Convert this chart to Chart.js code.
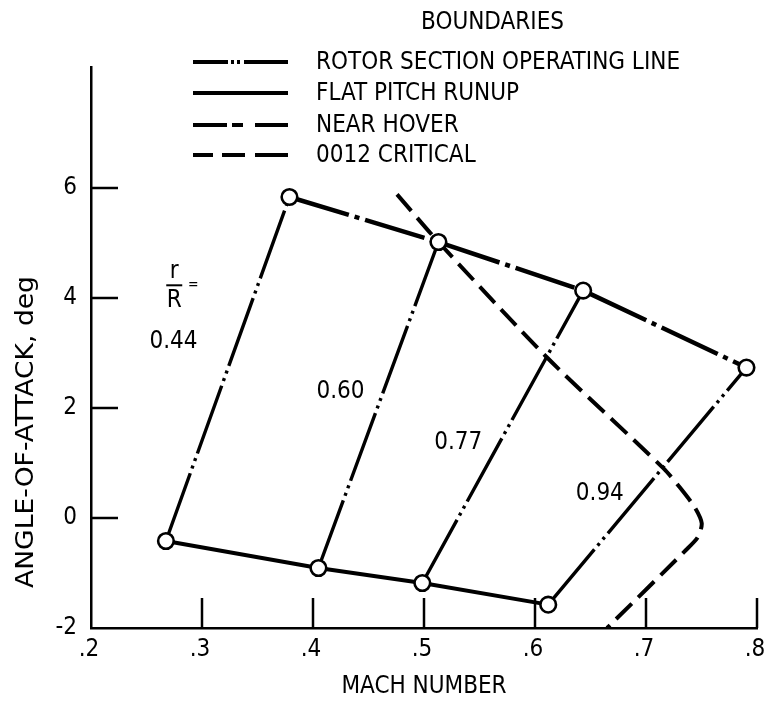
<!DOCTYPE html>
<html><head><meta charset="utf-8">
<script src="https://cdn.jsdelivr.net/npm/chart.js@4.4.1/dist/chart.umd.min.js"></script>
<style>html,body{margin:0;padding:0;background:#fff;}#wrap{width:768px;height:703px;position:relative;}</style>
</head><body><div id="wrap"><canvas id="c"></canvas></div>
<script>
const FONT = '"DejaVu Sans Condensed","Liberation Sans Narrow","Open Sans",sans-serif';

// ---- data ----
const machTicks = [0.2, 0.3, 0.4, 0.5, 0.6, 0.7, 0.8];
const alphaTicks = [-2, 0, 2, 4, 6];
const radiusLabels = ['0.44', '0.60', '0.77', '0.94'];
const seriesNames = ['ROTOR SECTION OPERATING LINE', 'FLAT PITCH RUNUP', 'NEAR HOVER', '0012 CRITICAL'];
// flat pitch runup boundary (bottom circles)
const runupMach  = [0.2675, 0.4049, 0.4985, 0.6119];
const runupAlpha = [-0.418, -0.909, -1.182, -1.575];
// near hover boundary (top circles)
const hoverMach  = [0.3788, 0.5130, 0.6434, 0.7905];
const hoverAlpha = [5.836, 5.018, 4.135, 2.735];
// 0012 critical boundary
const criticalMach  = [0.4757, 0.5130, 0.6104, 0.7160, 0.7304, 0.7439, 0.7502, 0.7466, 0.7358, 0.6689, 0.6649];
const criticalAlpha = [5.885, 5.018, 2.927, 0.898, 0.558, 0.195, -0.096, -0.351, -0.587, -1.92, -2.0];
// label anchor values (Mach, alpha) for r/R labels
const labelMach  = [0.2743, 0.4248, 0.5309, 0.6584];
const labelAlpha = [3.213, 2.287, 1.369, 0.449];

const pts = (xs, ys) => xs.map((x, i) => ({x, y: ys[i]}));

const datasets = [];
datasets.push({
  label: 'points', data: pts(runupMach.concat(hoverMach), runupAlpha.concat(hoverAlpha)),
  showLine: false, pointRadius: 7.8, pointBorderWidth: 2.6,
  pointBackgroundColor: '#fff', pointBorderColor: '#000', order: 0
});
for (let i = 0; i < radiusLabels.length; i++) {
  datasets.push({
    label: seriesNames[0] + ' ' + radiusLabels[i],
    data: pts([runupMach[i], hoverMach[i]], [runupAlpha[i], hoverAlpha[i]]),
    showLine: true, borderColor: '#000', borderWidth: 3.4, borderDash: [72, 5, 3, 5, 3, 5],
    pointRadius: 0, order: 1
  });
}
datasets.push({
  label: seriesNames[1], data: pts(runupMach, runupAlpha),
  showLine: true, borderColor: '#000', borderWidth: 4, pointRadius: 0, order: 1
});
datasets.push({
  label: seriesNames[2], data: pts(hoverMach, hoverAlpha),
  showLine: true, borderColor: '#000', borderWidth: 4.5, borderDash: [62, 6, 5, 6], pointRadius: 0, order: 1
});
datasets.push({
  label: seriesNames[3], data: pts(criticalMach, criticalAlpha),
  showLine: true, borderColor: '#000', borderWidth: 4, borderDash: [22, 9], tension: 0.25,
  pointRadius: 0, order: 1
});

const legendDash = [[35, 3, 3, 3, 3, 4, 50], [], [34, 5, 11, 12, 40], [20, 9, 23, 10, 40]];

function fitText(ctx, text, x, y, width) {
  const w = ctx.measureText(text).width;
  ctx.save(); ctx.translate(x, y); ctx.scale(width / w, 1);
  ctx.fillText(text, 0, 0); ctx.restore();
}

const decor = {
  id: 'decor',
  afterDraw(chart) {
    const ctx = chart.ctx, xs = chart.scales.x, ys = chart.scales.y, a = chart.chartArea;
    ctx.save();
    ctx.strokeStyle = '#000'; ctx.fillStyle = '#000'; ctx.lineWidth = 2.5; ctx.setLineDash([]);
    alphaTicks.forEach(v => {
      if (v === ys.min) return;
      const y = ys.getPixelForValue(v);
      ctx.beginPath(); ctx.moveTo(a.left, y); ctx.lineTo(a.left + 27, y); ctx.stroke();
    });
    machTicks.forEach(v => {
      if (v === xs.min) return;
      const x = xs.getPixelForValue(v);
      ctx.beginPath(); ctx.moveTo(x, a.bottom); ctx.lineTo(x, a.bottom - 30); ctx.stroke();
    });
    ctx.font = '24px ' + FONT; ctx.textAlign = 'center'; ctx.textBaseline = 'middle';
    ctx.save(); ctx.translate(27, 432); ctx.rotate(-Math.PI / 2);
    fitText(ctx, 'ANGLE-OF-ATTACK, deg', 0, 0, 312); ctx.restore();
    // legend
    ctx.textAlign = 'left';
    ctx.fillText('BOUNDARIES', 421, 23);
    const rowsY = [62, 93, 125, 155];
    seriesNames.forEach((name, i) => {
      ctx.lineWidth = 4; ctx.setLineDash(legendDash[i]);
      ctx.beginPath(); ctx.moveTo(193, rowsY[i]); ctx.lineTo(288, rowsY[i]); ctx.stroke();
      ctx.setLineDash([]);
      ctx.fillText(name, 316, rowsY[i] + 1);
    });
    // r/R labels
    ctx.textAlign = 'center';
    radiusLabels.forEach((t, i) => {
      ctx.fillText(t, xs.getPixelForValue(labelMach[i]), ys.getPixelForValue(labelAlpha[i]));
    });
    const fx = xs.getPixelForValue(0.275);
    ctx.fillText('r', fx, ys.getPixelForValue(4.48));
    ctx.fillText('R', fx, ys.getPixelForValue(3.958));
    const by = ys.getPixelForValue(4.231);
    ctx.lineWidth = 2; ctx.beginPath(); ctx.moveTo(fx - 8, by); ctx.lineTo(fx + 8, by); ctx.stroke();
    ctx.font = '14px ' + FONT;
    ctx.fillText('=', xs.getPixelForValue(0.2921), by);
    ctx.restore();
  }
};

new Chart(document.getElementById('c'), {
  type: 'scatter',
  data: { datasets },
  options: {
    responsive: true, maintainAspectRatio: false, animation: false,
    layout: { padding: { top: 67, right: 11, left: 0, bottom: 0 } },
    plugins: { legend: { display: false }, tooltip: { enabled: false } },
    scales: {
      x: {
        type: 'linear', min: 0.2, max: 0.8,
        afterBuildTicks: s => { s.ticks = machTicks.map(v => ({ value: v })); },
        afterFit: s => { s.height = 75; s.paddingLeft = 0; s.paddingRight = 0; },
        ticks: { callback: v => '.' + Math.round(v * 10), color: '#000', font: { family: FONT, size: 24 },
                 padding: 7, maxRotation: 0, autoSkip: false, labelOffset: -2 },
        grid: { display: false, drawTicks: false },
        border: { display: true, color: '#000', width: 2.5 },
        title: { display: true, text: 'MACH NUMBER', color: '#000', font: { family: FONT, size: 24 },
                 padding: { top: 0, bottom: 2 } }
      },
      y: {
        type: 'linear', min: -2, max: 8.2,
        afterBuildTicks: s => { s.ticks = alphaTicks.map(v => ({ value: v })); },
        afterFit: s => { s.width = 91; s.paddingTop = 0; s.paddingBottom = 0; },
        ticks: { callback: v => String(v), color: '#000', font: { family: FONT, size: 24 }, padding: 14 },
        grid: { display: false, drawTicks: false },
        border: { display: true, color: '#000', width: 2.5 }
      }
    }
  },
  plugins: [decor]
});
</script></body></html>
